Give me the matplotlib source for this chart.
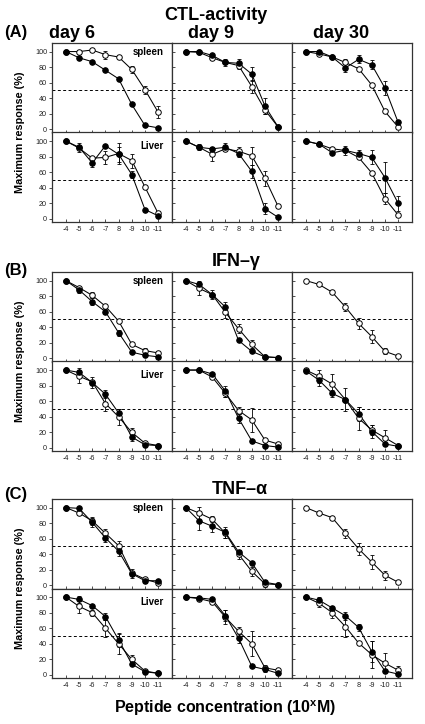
import numpy as np
import matplotlib
matplotlib.use("Agg")
import matplotlib.pyplot as plt

plt.rcParams['font.family'] = ['Liberation Sans', 'DejaVu Sans']
plt.rcParams['mathtext.fontset'] = 'custom'
plt.rcParams['mathtext.bf'] = 'Liberation Sans:bold'
plt.rcParams['mathtext.rm'] = 'Liberation Sans'

# ---------------- data ----------------
x_labels = ["-4", "-5", "-6", "-7", "8", "-9", "-10", "-11"]
section_titles = ["CTL-activity", "IFN\u2013\u03b3", "TNF\u2013\u03b1"]
section_tags = ["(A)", "(B)", "(C)"]
day_labels = ["day 6", "day 9", "day 30"]
organ_labels = ["spleen", "Liver"]

# (A) CTL-activity
A_d6_spl_filled = [100, 92, 87, 76, 65, 32, 5, 2]
A_d6_spl_filled_err = [0, 0, 0, 0, 0, 0, 0, 0]
A_d6_spl_open = [100, 100, 102, 96, 93, 77, 51, 22]
A_d6_spl_open_err = [0, 0, 0, 5, 0, 4, 5, 8]
A_d9_spl_filled = [100, 100, 95, 86, 85, 71, 30, 3]
A_d9_spl_filled_err = [0, 0, 0, 5, 6, 9, 10, 0]
A_d9_spl_open = [100, 99, 92, 86, 82, 55, 25, 3]
A_d9_spl_open_err = [0, 0, 0, 0, 5, 8, 5, 0]
A_d30_spl_filled = [100, 100, 93, 79, 90, 83, 53, 9]
A_d30_spl_filled_err = [0, 0, 0, 5, 5, 6, 9, 3]
A_d30_spl_open = [100, 97, 93, 86, 78, 57, 23, 3]
A_d30_spl_open_err = [0, 0, 0, 5, 0, 0, 0, 0]
A_d6_liv_filled = [100, 92, 72, 94, 83, 57, 12, 4]
A_d6_liv_filled_err = [0, 6, 5, 0, 10, 5, 0, 0]
A_d6_liv_open = [100, 91, 78, 79, 84, 75, 41, 7]
A_d6_liv_open_err = [0, 0, 0, 8, 13, 9, 0, 0]
A_d9_liv_filled = [100, 92, 90, 92, 84, 61, 13, 2]
A_d9_liv_filled_err = [0, 4, 0, 5, 4, 8, 7, 0]
A_d9_liv_open = [100, 92, 83, 90, 87, 81, 52, 16]
A_d9_liv_open_err = [0, 0, 9, 0, 5, 12, 10, 0]
A_d30_liv_filled = [100, 96, 85, 88, 84, 79, 53, 20]
A_d30_liv_filled_err = [0, 0, 0, 6, 5, 9, 20, 10]
A_d30_liv_open = [100, 96, 90, 88, 79, 59, 26, 5]
A_d30_liv_open_err = [0, 0, 0, 0, 0, 0, 7, 0]

# (B) IFN-gamma
B_d6_spl_filled = [100, 88, 73, 60, 33, 8, 4, 2]
B_d6_spl_filled_err = [0, 4, 4, 3, 4, 0, 0, 0]
B_d6_spl_open = [100, 91, 81, 67, 48, 18, 10, 7]
B_d6_spl_open_err = [0, 0, 4, 0, 0, 0, 3, 0]
B_d9_spl_filled = [100, 95, 82, 66, 23, 9, 2, 1]
B_d9_spl_filled_err = [0, 5, 6, 7, 0, 0, 0, 0]
B_d9_spl_open = [100, 90, 82, 59, 38, 18, 2, 1]
B_d9_spl_open_err = [0, 8, 0, 7, 6, 5, 0, 0]
B_d30_spl_open = [100, 95, 85, 66, 45, 28, 9, 3]
B_d30_spl_open_err = [0, 0, 0, 5, 7, 8, 4, 0]
B_d6_liv_filled = [100, 97, 84, 69, 45, 14, 4, 3]
B_d6_liv_filled_err = [0, 6, 7, 5, 5, 5, 0, 0]
B_d6_liv_open = [100, 92, 85, 57, 40, 20, 6, 3]
B_d6_liv_open_err = [0, 8, 0, 9, 10, 5, 0, 0]
B_d9_liv_filled = [100, 100, 95, 73, 38, 9, 3, 1]
B_d9_liv_filled_err = [0, 0, 0, 7, 6, 0, 0, 0]
B_d9_liv_open = [100, 100, 91, 70, 48, 36, 10, 5]
B_d9_liv_open_err = [0, 0, 0, 5, 5, 15, 0, 0]
B_d30_liv_filled = [99, 87, 70, 62, 44, 21, 5, 2]
B_d30_liv_filled_err = [0, 7, 5, 15, 9, 8, 0, 0]
B_d30_liv_open = [100, 92, 82, 62, 38, 23, 13, 3]
B_d30_liv_open_err = [0, 8, 13, 0, 15, 6, 10, 0]

# (C) TNF-alpha
C_d6_spl_filled = [100, 99, 81, 61, 44, 15, 6, 6]
C_d6_spl_filled_err = [0, 0, 6, 5, 6, 6, 3, 0]
C_d6_spl_open = [100, 93, 83, 67, 51, 16, 8, 3]
C_d6_spl_open_err = [0, 3, 5, 5, 6, 0, 0, 0]
C_d9_spl_filled = [100, 83, 76, 68, 43, 29, 4, 1]
C_d9_spl_filled_err = [0, 12, 7, 7, 3, 0, 0, 0]
C_d9_spl_open = [100, 93, 85, 67, 40, 18, 2, 1]
C_d9_spl_open_err = [0, 8, 4, 6, 6, 6, 4, 0]
C_d30_spl_open = [100, 93, 87, 67, 47, 30, 13, 4]
C_d30_spl_open_err = [0, 0, 0, 6, 8, 9, 6, 0]
C_d6_liv_filled = [100, 97, 89, 75, 45, 14, 4, 2]
C_d6_liv_filled_err = [0, 5, 0, 4, 9, 0, 0, 0]
C_d6_liv_open = [100, 88, 80, 60, 40, 20, 5, 2]
C_d6_liv_open_err = [0, 8, 4, 11, 13, 6, 0, 0]
C_d9_liv_filled = [100, 99, 97, 76, 47, 11, 7, 2]
C_d9_liv_filled_err = [0, 0, 0, 7, 6, 0, 3, 0]
C_d9_liv_open = [100, 98, 94, 74, 56, 40, 9, 6]
C_d9_liv_open_err = [0, 0, 3, 9, 6, 16, 4, 0]
C_d30_liv_filled = [100, 96, 86, 76, 61, 30, 5, 1]
C_d30_liv_filled_err = [0, 4, 3, 5, 5, 13, 0, 0]
C_d30_liv_open = [100, 92, 80, 62, 41, 26, 15, 6]
C_d30_liv_open_err = [0, 5, 7, 13, 0, 17, 13, 6]

# panels[section][organ][day] = (filled, filled_err, open, open_err)
panels = [
    [[(A_d6_spl_filled, A_d6_spl_filled_err, A_d6_spl_open, A_d6_spl_open_err),
      (A_d9_spl_filled, A_d9_spl_filled_err, A_d9_spl_open, A_d9_spl_open_err),
      (A_d30_spl_filled, A_d30_spl_filled_err, A_d30_spl_open, A_d30_spl_open_err)],
     [(A_d6_liv_filled, A_d6_liv_filled_err, A_d6_liv_open, A_d6_liv_open_err),
      (A_d9_liv_filled, A_d9_liv_filled_err, A_d9_liv_open, A_d9_liv_open_err),
      (A_d30_liv_filled, A_d30_liv_filled_err, A_d30_liv_open, A_d30_liv_open_err)]],
    [[(B_d6_spl_filled, B_d6_spl_filled_err, B_d6_spl_open, B_d6_spl_open_err),
      (B_d9_spl_filled, B_d9_spl_filled_err, B_d9_spl_open, B_d9_spl_open_err),
      (None, None, B_d30_spl_open, B_d30_spl_open_err)],
     [(B_d6_liv_filled, B_d6_liv_filled_err, B_d6_liv_open, B_d6_liv_open_err),
      (B_d9_liv_filled, B_d9_liv_filled_err, B_d9_liv_open, B_d9_liv_open_err),
      (B_d30_liv_filled, B_d30_liv_filled_err, B_d30_liv_open, B_d30_liv_open_err)]],
    [[(C_d6_spl_filled, C_d6_spl_filled_err, C_d6_spl_open, C_d6_spl_open_err),
      (C_d9_spl_filled, C_d9_spl_filled_err, C_d9_spl_open, C_d9_spl_open_err),
      (None, None, C_d30_spl_open, C_d30_spl_open_err)],
     [(C_d6_liv_filled, C_d6_liv_filled_err, C_d6_liv_open, C_d6_liv_open_err),
      (C_d9_liv_filled, C_d9_liv_filled_err, C_d9_liv_open, C_d9_liv_open_err),
      (C_d30_liv_filled, C_d30_liv_filled_err, C_d30_liv_open, C_d30_liv_open_err)]],
]

# ---------------- layout (pixels, top-origin) ----------------
W, H = 425, 724
fig = plt.figure(figsize=(W / 100, H / 100), dpi=100)
col_left = [52, 172, 292]
col_w = 120
sec_top = [43, 272, 499]
row_h = 89.5
title_y = [15, 262, 489]
title_x = [216, 236, 240]
tag_y = [33, 270, 495]

x = np.arange(len(x_labels))
spine_col = '#333333'


def draw_series(ax, vals, errs, filled):
    vals = np.asarray(vals, float)
    errs = np.asarray(errs, float)
    ax.plot(x, vals, color='black', lw=0.75, zorder=2 if not filled else 3)
    m = errs > 0
    if m.any():
        ax.errorbar(x[m], vals[m], yerr=errs[m], fmt='none', ecolor='black',
                    elinewidth=0.6, capsize=1.3, capthick=0.6,
                    zorder=2 if not filled else 3)
    ax.plot(x, vals, ls='none', marker='o', ms=4.0,
            mfc='black' if filled else 'white', mec='black', mew=0.7,
            zorder=4 if filled else 3.5)


for s in range(3):
    for o in range(2):
        top = sec_top[s] + o * row_h
        for d in range(3):
            left = col_left[d]
            ax = fig.add_axes([left / W, 1 - (top + row_h) / H, col_w / W, row_h / H])
            filled, ferr, opn, oerr = panels[s][o][d]
            ax.axhline(50, color='black', lw=0.7, ls=(0, (3, 2.5)), zorder=1)
            if opn is not None:
                draw_series(ax, opn, oerr, False)
            if filled is not None:
                draw_series(ax, filled, ferr, True)
            ax.set_xlim(-1.05, 8.05)
            ax.set_ylim(-4, 111)
            ax.set_xticks(x)
            ax.set_yticks([0, 20, 40, 60, 80, 100])
            for sp in ax.spines.values():
                sp.set_color(spine_col)
                sp.set_linewidth(0.9)
            ax.tick_params(axis='x', direction='in', length=2.2, width=0.6,
                           colors=spine_col, labelsize=5.2, labelcolor='#222222', pad=3)
            ax.tick_params(axis='y', direction='out' if d == 0 else 'in', length=2,
                           width=0.6, colors=spine_col, labelsize=5.2,
                           labelcolor='#222222', pad=1.5)
            if o == 1:
                ax.set_xticklabels(x_labels)
            else:
                ax.set_xticklabels([])
            if d != 0:
                ax.set_yticklabels([])
            if d == 0:
                ax.text(0.93, 0.90 if o == 0 else 0.845, organ_labels[o],
                        transform=ax.transAxes, ha='right', va='center',
                        fontsize=7, fontweight='bold')
    # section title & tag
    fig.text(title_x[s] / W, 1 - title_y[s] / H, section_titles[s], ha='center',
             va='center', fontsize=13, fontweight='bold')
    fig.text(4 / W, 1 - tag_y[s] / H, section_tags[s], ha='left', va='center',
             fontsize=12, fontweight='bold')
    # y label
    fig.text(20 / W, 1 - (sec_top[s] + row_h) / H, "Maximum response (%)",
             rotation=90, ha='center', va='center', fontsize=7.8, fontweight='bold')

# day labels
day_x = [72, 211, 341]
for d in range(3):
    fig.text(day_x[d] / W, 1 - 33 / H, day_labels[d], ha='center' if d else 'center',
             va='center', fontsize=13, fontweight='bold')

fig.text(225 / W, 1 - 708 / H, r"Peptide concentration (10$^{\mathbf{x}}$M)",
         ha='center', va='center', fontsize=11.5, fontweight='bold')

fig.savefig("out.png", dpi=100)
